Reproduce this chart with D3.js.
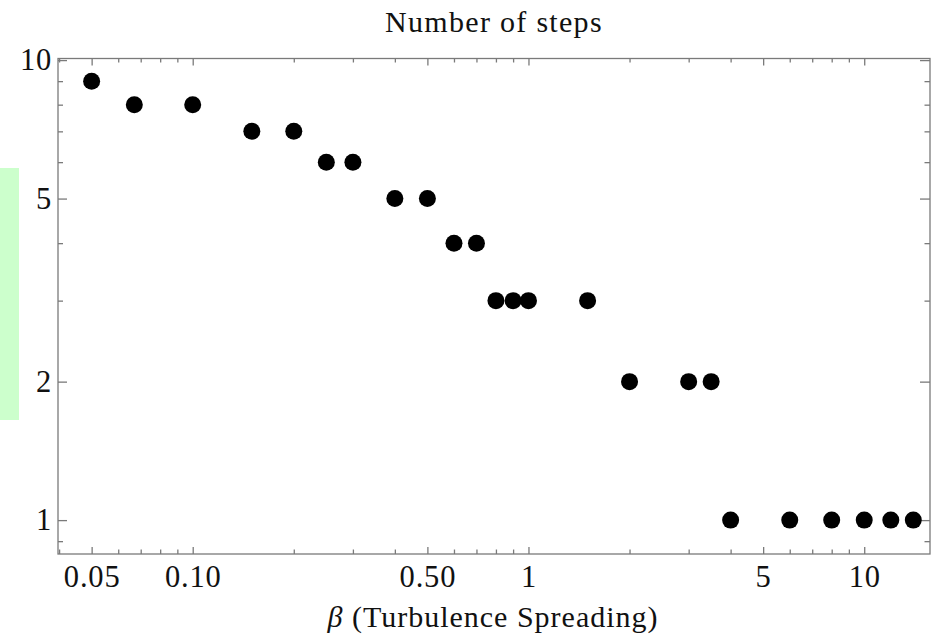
<!DOCTYPE html>
<html>
<head>
<meta charset="utf-8">
<script src="https://cdn.jsdelivr.net/npm/d3@7"></script>
<style>
  html, body { margin: 0; padding: 0; background: #fff; }
  svg { display: block; }
  .axis path, .axis line { stroke: #7a7a7a; stroke-width: 1.3; }
  .axis text { font-family: "Liberation Serif", "Times New Roman", serif; font-size: 30.5px; letter-spacing: 0.8px; fill: #111; }
</style>
</head>
<body>
<svg id="chart" width="937" height="636"></svg>
<script>
// Turbulence spreading parameter and number of steps taken
const beta  = [0.05, 0.067, 0.1, 0.15, 0.2, 0.25, 0.3, 0.4, 0.5, 0.6, 0.7, 0.8, 0.9, 1, 1.5, 2, 3, 3.5, 4, 6, 8, 10, 12, 14];
const steps = [9, 8, 8, 7, 7, 6, 6, 5, 5, 4, 4, 3, 3, 3, 3, 2, 2, 2, 1, 1, 1, 1, 1, 1];

// Tick positions and labels
const xMajor = [0.05, 0.1, 0.5, 1, 5, 10];
const xMajorLabels = ["0.05", "0.10", "0.50", "1", "5", "10"];
const xMinor = [0.04, 0.06, 0.07, 0.08, 0.09, 0.2, 0.3, 0.4, 0.6, 0.7, 0.8, 0.9, 2, 3, 4, 6, 7, 8, 9];
const yMajor = [1, 2, 5, 10];
const yMajorLabels = ["1", "2", "5", "10"];
const yMinor = [0.9, 3, 4, 6, 7, 8, 9];

const titleText = "Number of steps";
const xLabelText = "(Turbulence Spreading)";

const svg = d3.select("#chart");
const plotL = 58, plotR = 930, plotT = 58.5, plotB = 554;
const serif = '"Liberation Serif", "Times New Roman", serif';

const x = d3.scaleLog().domain([0.0397, 15.7]).range([plotL, plotR]);
const y = d3.scaleLog().domain([0.844, 10.08]).range([plotB, plotT]);

// marker strip at the left edge
svg.append("rect")
  .attr("x", 0).attr("y", 168).attr("width", 19).attr("height", 252)
  .attr("fill", "#ccffcc");

// frame
svg.append("rect")
  .attr("x", plotL).attr("y", plotT)
  .attr("width", plotR - plotL).attr("height", plotB - plotT)
  .attr("fill", "none").attr("stroke", "#7a7a7a").attr("stroke-width", 1.3);

function addAxis(axis, tx, ty) {
  const g = svg.append("g").attr("class", "axis")
    .attr("transform", `translate(${tx},${ty})`)
    .call(axis);
  g.select(".domain").remove();
  return g;
}

// bottom axis
addAxis(d3.axisBottom(x).tickValues(xMajor).tickSize(-7).tickPadding(11)
  .tickFormat((d, i) => xMajorLabels[i]), 0, plotB);
addAxis(d3.axisBottom(x).tickValues(xMinor).tickSize(-4.5).tickFormat(""), 0, plotB);
// top axis (mirrored ticks)
addAxis(d3.axisTop(x).tickValues(xMajor).tickSize(-7).tickFormat(""), 0, plotT);
addAxis(d3.axisTop(x).tickValues(xMinor).tickSize(-4).tickFormat(""), 0, plotT);
// left axis
addAxis(d3.axisLeft(y).tickValues(yMajor).tickSize(-9).tickPadding(6)
  .tickFormat((d, i) => yMajorLabels[i]), plotL, 0);
addAxis(d3.axisLeft(y).tickValues(yMinor).tickSize(-5).tickFormat(""), plotL, 0);
// right axis (mirrored ticks)
addAxis(d3.axisRight(y).tickValues(yMajor).tickSize(-10).tickFormat(""), plotR, 0);
addAxis(d3.axisRight(y).tickValues(yMinor).tickSize(-5.5).tickFormat(""), plotR, 0);

// points
svg.append("g").selectAll("circle")
  .data(beta.map((b, i) => ({ b, s: steps[i] })))
  .join("circle")
  .attr("cx", d => x(d.b))
  .attr("cy", d => y(d.s))
  .attr("r", 8.5)
  .attr("fill", "#000");

// title
svg.append("text")
  .attr("x", 494).attr("y", 32)
  .attr("text-anchor", "middle")
  .style("font-family", serif)
  .style("font-size", "30px").style("letter-spacing", "1.3px")
  .attr("fill", "#111")
  .text(titleText);

// x-axis label
const xl = svg.append("text")
  .attr("x", 493).attr("y", 627)
  .attr("text-anchor", "middle")
  .style("font-family", serif)
  .style("font-size", "30px").style("letter-spacing", "1px")
  .attr("fill", "#111");
xl.append("tspan").style("font-style", "italic").text("β");
xl.append("tspan").text(" " + xLabelText);
</script>
</body>
</html>
